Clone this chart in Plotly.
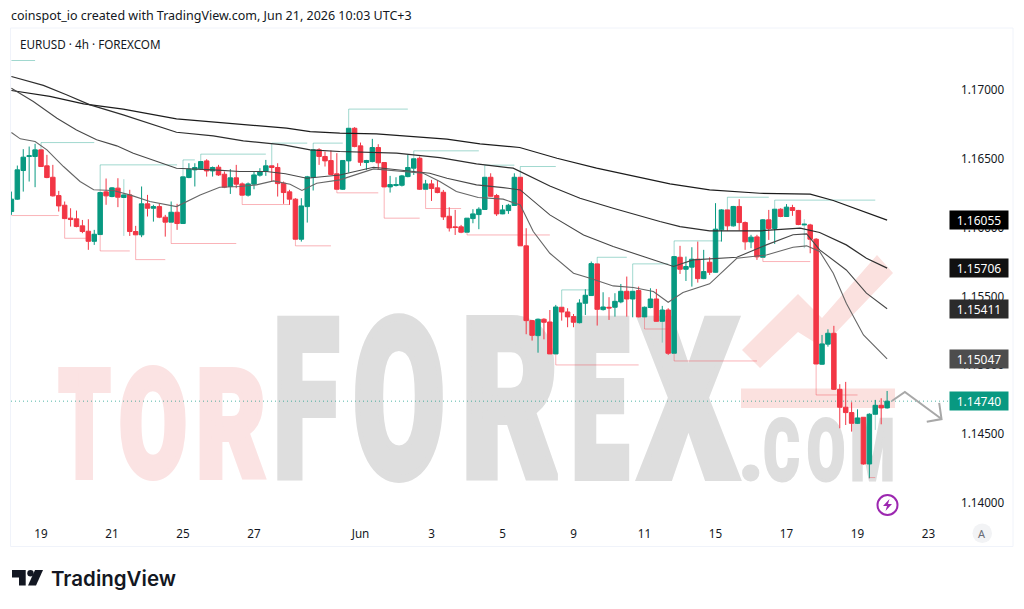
import json
import plotly.graph_objects as go

# EURUSD 4h candles, oldest first
opens = [1.16117,1.16207,1.16415,1.16517,1.16517,1.16565,1.16449,1.16366,1.16233,1.16163,1.16069,1.16064,1.16013,1.15974,1.15901,1.15950,
 1.16260,1.16226,1.16287,1.16219,1.16238,1.15972,1.15948,1.16173,1.16141,1.16153,1.16076,1.16040,1.16112,1.16030,1.16364,1.16420,
 1.16427,1.16485,1.16412,1.16439,1.16388,1.16299,1.16362,1.16318,1.16236,1.16316,1.16381,1.16408,1.16449,1.16437,1.16323,1.16260,
 1.16207,1.15916,1.16153,1.16366,1.16565,1.16517,1.16487,1.16391,
 1.16279,1.16485,1.16722,1.16594,1.16473,1.16480,1.16582,1.16473,1.16296,1.16306,1.16308,1.16371,1.16432,1.16504,1.16279,1.16318,
 1.16289,1.16257,1.16083,1.16006,1.16006,1.15967,1.16066,1.16095,1.16132,1.16366,1.16233,1.16100,1.16124,1.16161,1.16366,1.15868,
 1.15325,1.15216,1.15335,1.15315,1.15083,1.15422,1.15388,1.15354,1.15310,1.15451,1.15507,1.15737,1.15405,1.15422,1.15422,1.15461,
 1.15538,1.15482,1.15543,1.15352,1.15420,1.15482,1.15320,1.15402,
 1.15088,1.15785,1.15698,1.15713,1.15771,1.15630,1.15749,1.15676,1.15984,1.16129,1.16013,1.16154,1.16037,1.15897,1.15933,1.15785,
 1.16057,1.15994,1.16134,1.16081,1.16146,1.16125,1.16020,1.16020,1.15916,1.15008,1.15154,1.15233,1.14826,1.14696,1.14657,1.14579,
 1.14623,1.14284,1.14645,1.14710,1.14691]
highs = [1.16262,1.16451,1.16570,1.16589,1.16609,1.16565,1.16529,1.16456,1.16267,1.16190,1.16141,1.16124,1.16056,1.16061,1.15984,1.16255,
 1.16357,1.16294,1.16359,1.16238,1.16275,1.16013,1.16299,1.16238,1.16166,1.16173,1.16093,1.16190,1.16173,1.16369,1.16468,1.16468,
 1.16480,1.16497,1.16444,1.16456,1.16408,1.16425,1.16456,1.16328,1.16328,1.16408,1.16432,1.16492,1.16449,1.16468,1.16335,1.16275,
 1.16214,1.16214,1.16376,1.16565,1.16577,1.16553,1.16560,1.16541,
 1.16488,1.16722,1.16730,1.16618,1.16492,1.16645,1.16606,1.16473,1.16376,1.16366,1.16383,1.16529,1.16500,1.16517,1.16347,1.16347,
 1.16342,1.16274,1.16148,1.16129,1.16020,1.16069,1.16134,1.16148,1.16366,1.16395,1.16245,1.16165,1.16173,1.16395,1.16366,1.15996,
 1.15330,1.15340,1.15342,1.15402,1.15439,1.15422,1.15415,1.15373,1.15480,1.15553,1.15754,1.15737,1.15531,1.15495,1.15524,1.15591,
 1.15645,1.15538,1.15572,1.15427,1.15560,1.15555,1.15432,1.15415,
 1.15790,1.15868,1.15790,1.15858,1.15899,1.15839,1.15785,1.16178,1.16134,1.16129,1.16158,1.16207,1.16045,1.15948,1.15948,1.16062,
 1.16129,1.16134,1.16141,1.16171,1.16166,1.16129,1.16025,1.16028,1.15924,1.15221,1.15262,1.15287,1.14863,1.14880,1.14732,1.14681,
 1.14623,1.14652,1.14749,1.14761,1.14814]
lows = [1.16093,1.16202,1.16262,1.16335,1.16294,1.16444,1.16359,1.16226,1.16117,1.16066,1.16008,1.16003,1.15960,1.15839,1.15875,1.15950,
 1.16166,1.16221,1.16149,1.16219,1.15940,1.15948,1.15931,1.16081,1.16044,1.16069,1.15935,1.16040,1.15984,1.16027,1.16359,1.16299,
 1.16420,1.16371,1.16371,1.16376,1.16287,1.16245,1.16287,1.16236,1.16226,1.16279,1.16371,1.16376,1.16335,1.16226,1.16173,1.16166,
 1.15916,1.15899,1.16037,1.16270,1.16456,1.16444,1.16383,1.16279,
 1.16274,1.16400,1.16584,1.16449,1.16420,1.16475,1.16420,1.16296,1.16255,1.16299,1.16299,1.16366,1.16383,1.16274,1.16279,1.16194,
 1.16250,1.16056,1.15972,1.15947,1.15960,1.15967,1.16032,1.15989,1.16129,1.16226,1.16085,1.16098,1.16100,1.16158,1.15868,1.15226,
 1.15180,1.15092,1.15189,1.15083,1.15083,1.15325,1.15277,1.15277,1.15305,1.15366,1.15504,1.15289,1.15398,1.15330,1.15354,1.15451,
 1.15354,1.15349,1.15349,1.15352,1.15415,1.15318,1.15320,1.15076,
 1.15088,1.15664,1.15613,1.15572,1.15601,1.15626,1.15657,1.15674,1.15899,1.15977,1.16008,1.15979,1.15839,1.15851,1.15766,1.15785,
 1.15911,1.15882,1.16076,1.16081,1.16086,1.16018,1.16020,1.15814,1.15010,1.15005,1.15136,1.14821,1.14543,1.14567,1.14519,1.14574,
 1.14279,1.14180,1.14645,1.14572,1.14686]
closes = [1.16207,1.16420,1.16512,1.16522,1.16565,1.16444,1.16364,1.16231,1.16158,1.16066,1.16059,1.16008,1.15972,1.15901,1.15952,1.16255,
 1.16231,1.16289,1.16221,1.16238,1.15972,1.15948,1.16173,1.16141,1.16153,1.16076,1.16040,1.16112,1.16030,1.16369,1.16425,1.16437,
 1.16480,1.16412,1.16437,1.16383,1.16294,1.16362,1.16316,1.16236,1.16318,1.16383,1.16408,1.16449,1.16437,1.16320,1.16255,1.16207,
 1.15916,1.16158,1.16369,1.16565,1.16517,1.16485,1.16386,1.16279,
 1.16488,1.16722,1.16589,1.16475,1.16488,1.16582,1.16471,1.16296,1.16313,1.16313,1.16376,1.16437,1.16500,1.16279,1.16318,1.16284,
 1.16255,1.16078,1.15998,1.16001,1.15967,1.16069,1.16100,1.16134,1.16366,1.16228,1.16100,1.16129,1.16163,1.16366,1.15868,1.15325,
 1.15218,1.15335,1.15313,1.15083,1.15424,1.15388,1.15352,1.15313,1.15453,1.15509,1.15739,1.15407,1.15424,1.15417,1.15465,1.15538,
 1.15482,1.15538,1.15352,1.15422,1.15482,1.15320,1.15402,1.15088,
 1.15790,1.15698,1.15718,1.15771,1.15630,1.15681,1.15676,1.15989,1.16129,1.16013,1.16154,1.16037,1.15897,1.15931,1.15788,1.16057,
 1.15994,1.16134,1.16081,1.16149,1.16125,1.16023,1.16025,1.15916,1.15010,1.15156,1.15233,1.14826,1.14696,1.14657,1.14579,1.14618,
 1.14284,1.14645,1.14710,1.14691,1.14740]
bars = list(range(1, len(closes) + 1))

# Moving averages, sampled along each curve: (bar, price)
ma_200_bars = [1,7.5,13.2,19.9,28.9,38.5,47.5,51.5,56.5,62.7,74.6,80.2,86.9,93.2,99.9,112.3,119,127.5,136,139.9,144.4,149]
ma_200_vals = [1.16996,1.16953,1.16899,1.16861,1.16790,1.16754,1.16723,1.16698,1.16686,1.16681,1.16643,1.16609,1.16582,1.16504,1.16432,1.16318,1.16275,1.16250,1.16243,1.16197,1.16125,1.16055]
ma_100_bars = [1,6.4,10.3,14.3,19.9,28.9,35.1,40.2,47,51.5,56.5,60.5,66.1,73.4,79.6,85.8,92,97.1,102.7,110.6,114,119,127.5,134.3,137.6,142.1,145.5,149]
ma_100_vals = [1.17098,1.17033,1.16965,1.16892,1.16819,1.16693,1.16667,1.16630,1.16601,1.16565,1.16553,1.16548,1.16541,1.16509,1.16463,1.16432,1.16303,1.16214,1.16141,1.16045,1.16008,1.15977,1.15977,1.15996,1.15965,1.15875,1.15778,1.15706]
ma_50_bars = [1,4.7,8.7,12,15.4,18.8,21.6,25.6,28.9,35.1,39.6,44.1,47.3,50.9,56.5,62.2,66.1,71.7,74.6,79.6,84.1,87,92,97.7,102.7,110.6,112.9,116.2,123.6,128.6,133.1,135.4,137.6,142.1,145.5,149]
ma_50_vals = [1.17013,1.16916,1.16795,1.16710,1.16638,1.16594,1.16541,1.16480,1.16432,1.16420,1.16408,1.16408,1.16391,1.16359,1.16383,1.16439,1.16420,1.16395,1.16359,1.16311,1.16291,1.16274,1.16093,1.15947,1.15863,1.15749,1.15718,1.15766,1.15785,1.15875,1.15948,1.15955,1.15839,1.15693,1.15524,1.15411]
ma_20_bars = [1,2.5,5,7,9.8,12.6,14.9,18.2,21,24.4,28.9,32.9,36.2,39.6,42.4,45.3,48.1,50.1,52.6,56.5,62.2,66.1,70.6,73.4,76.2,79.9,84.1,87,89.2,92,96,98.8,102.7,106.1,109.5,112,114.5,119,123.6,128.6,133.1,135.4,137.6,139.9,142.1,145,149]
ma_20_vals = [1.16691,1.16645,1.16626,1.16565,1.16444,1.16335,1.16275,1.16270,1.16238,1.16190,1.16153,1.16238,1.16294,1.16299,1.16311,1.16340,1.16316,1.16270,1.16323,1.16347,1.16427,1.16412,1.16395,1.16335,1.16262,1.16219,1.16207,1.16165,1.15972,1.15814,1.15669,1.15633,1.15577,1.15565,1.15536,1.15458,1.15529,1.15592,1.15778,1.15802,1.15858,1.15868,1.15827,1.15669,1.15451,1.15221,1.15047]

# Pivot levels: first bar, last bar, price the marker leaves from, level held
up_start = [1,6,16,30,33,45,52,58,69,81,87,94,100,106,113,122,130]
up_end = [5,15,29,32,44,51,57,68,80,86,93,99,105,112,121,129,147]
up_from = [1.17214,1.16565,1.16255,1.16369,1.16480,1.16449,1.16565,1.16722,1.16500,1.16366,1.16366,1.15422,1.15737,1.15538,1.15790,1.16129,1.16134]
up_level = [1.17214,1.16618,1.16456,1.16492,1.16534,1.16614,1.16614,1.16861,1.16558,1.16454,1.16444,1.15548,1.15785,1.15737,1.15904,1.16221,1.16200]
down_start = [1,10,16,22,28,40,49,56,64,71,78,93,108,113,128,137,146]
down_end = [9,14,21,27,39,48,55,63,70,77,92,107,112,127,136,144,147]
down_from = [1.16088,1.16066,1.15950,1.15948,1.16040,1.16236,1.15916,1.16279,1.16296,1.16279,1.15967,1.15083,1.15352,1.15088,1.15785,1.15010,1.14180]
down_level = [1.16088,1.15923,1.15831,1.15768,1.15885,1.16168,1.15868,1.16253,1.16069,1.16139,1.15947,1.15003,1.15264,1.15032,1.15754,1.14785,1.14185]

# Thin pale wicks on a few bars
pale_bars = [20,111,135,147]
pale_highs = [1.16352,1.15320,1.16062,1.14749]
pale_lows = [1.15940,1.15165,1.15851,1.14531]

# Forecast arrow sketched past the last bar
arrow_bars = [149.8,152,158.2]
arrow_prices = [1.14741,1.14807,1.14610]
head_bars = [155.7,158.2,157.8]
head_prices = [1.14591,1.14610,1.14727]

date_ticks = [6,18,30,42,60,72,84,96,108,120,132,144,156]
date_labels = ["19","21","25","27","Jun","3","5","9","11","15","17","19","23"]
price_ticks = [1.14,1.145,1.15,1.155,1.16,1.165,1.17]
price_tags = [1.16055,1.15706,1.15411,1.15047,1.14740]
tag_fills = ["#000000","#111111","#2b2b2b","#4d4d4d","#089981"]
last_price = closes[-1]

UP = "#089981"
DOWN = "#f23645"
FONT = "Noto Sans"
INK = "#131722"

# Background wordmark letters: glyph, centre, fitted advance, vertical centre, size, stroke, colour
PINK = "#fbe3e3"
GREY = "#dedede"
mark_glyphs = ["T","O","R","F","O","R","E","X",".","C","O","M"]
mark_center = [84.5,153,231,306,399,510,600,688.5,751,781.5,826,872.5]
mark_advance = [52,68,70,66,92,98,58,98,24,36,38,44]
mark_mid = [439.5,439.5,439.5,422,422,422,422,422,458.5,458.5,458.5,458.5]
mark_size = [150,150,150,220,220,220,220,220,86,86,86,86]
mark_stroke = [6,6,6,8,8,8,8,8,3,3,3,3]
mark_color = [PINK]*3 + [GREY]*5 + [GREY]*4

fig = go.Figure()

# Wordmark sits on the full-page pixel axes, under the price panel
fig.add_trace(go.Scatter(
    x=mark_center, y=mark_mid, mode="text", text=mark_glyphs, textposition="middle center",
    textfont=dict(family="Roboto", size=mark_size, color=mark_color, weight=900),
    xaxis="x", yaxis="y", hoverinfo="skip",
))

fig.add_trace(go.Candlestick(
    x=bars, open=opens, high=highs, low=lows, close=closes,
    whiskerwidth=0,
    increasing=dict(line=dict(color=UP, width=1), fillcolor=UP),
    decreasing=dict(line=dict(color=DOWN, width=1), fillcolor=DOWN),
    xaxis="x2", yaxis="y2", hoverinfo="skip",
))


def stepped(starts, ends, froms, levels):
    xs, ys = [], []
    for s, e, f, l in zip(starts, ends, froms, levels):
        xs += [s, s, e, None]
        ys += [f, l, l, None]
    return xs, ys


for (s, e, f, l), col in (((up_start, up_end, up_from, up_level), "rgba(8,153,129,0.38)"),
                          ((down_start, down_end, down_from, down_level), "rgba(242,54,69,0.38)")):
    xs, ys = stepped(s, e, f, l)
    fig.add_trace(go.Scatter(x=xs, y=ys, mode="lines", line=dict(color=col, width=1),
                             xaxis="x2", yaxis="y2", hoverinfo="skip"))

wx, wy = [], []
for b, h, l in zip(pale_bars, pale_highs, pale_lows):
    wx += [b, b, None]
    wy += [h, l, None]
fig.add_trace(go.Scatter(x=wx, y=wy, mode="lines", line=dict(color="rgba(8,153,129,0.38)", width=1),
                         xaxis="x2", yaxis="y2", hoverinfo="skip"))

for xs, ys, col, w in ((ma_200_bars, ma_200_vals, "#1c1c1c", 1.2),
                       (ma_100_bars, ma_100_vals, "#2e2e2e", 1.2),
                       (ma_50_bars, ma_50_vals, "#484848", 1.1),
                       (ma_20_bars, ma_20_vals, "#666666", 1.1)):
    fig.add_trace(go.Scatter(x=xs, y=ys, mode="lines", line=dict(color=col, width=w),
                             xaxis="x2", yaxis="y2", hoverinfo="skip"))

for xs, ys in ((arrow_bars, arrow_prices), (head_bars, head_prices)):
    fig.add_trace(go.Scatter(x=xs, y=ys, mode="lines", line=dict(color="#a8a8a8", width=2),
                             xaxis="x2", yaxis="y2", hoverinfo="skip"))


def poly(points):
    return "M " + " L ".join(f"{x},{y}" for x, y in points) + " Z"


shapes = [
    # price panel frame
    dict(type="rect", xref="x", yref="y", x0=10.5, x1=1013, y0=28, y1=546.5,
         line=dict(color="#f0f3fa", width=1), fillcolor="rgba(0,0,0,0)", layer="below"),
    # wordmark zigzag and band
    dict(type="path", xref="x", yref="y", layer="below", line_width=0, fillcolor="#fbe1df",
         path=poly([(742, 350), (798, 294), (822, 318), (877, 255), (893, 273), (822, 347), (798, 332), (760, 368)])),
    dict(type="rect", xref="x", yref="y", layer="below", line_width=0, fillcolor="#fbe1df",
         x0=741, x1=895, y0=388.5, y1=408),
    # last price guide
    dict(type="line", xref="x2", yref="y2", x0=0.93, x1=159.29, y0=last_price, y1=last_price,
         line=dict(color="rgba(8,153,129,0.7)", width=1, dash="1px 3px"), layer="below"),
    # TradingView logo mark
    dict(type="path", xref="x", yref="y", line_width=0, fillcolor=INK,
         path=poly([(12, 570), (25.7, 570), (25.7, 585.5), (19, 585.5), (19, 577.5), (12, 577.5)])),
    dict(type="circle", xref="x", yref="y", line_width=0, fillcolor=INK, x0=27.3, x1=33.7, y0=570, y1=576.4),
    dict(type="path", xref="x", yref="y", line_width=0, fillcolor=INK,
         path=poly([(35, 570), (43, 570), (36, 585.5), (28, 585.5)])),
    # session icon
    dict(type="circle", xref="x", yref="y", x0=877.5, x1=897.5, y0=495, y1=515,
         line=dict(color="#9c27b0", width=2), fillcolor="rgba(255,255,255,0)"),
    dict(type="path", xref="x", yref="y", line_width=0, fillcolor="#9c27b0",
         path=poly([(889.5, 499), (883, 506), (887, 506), (885.5, 511), (892, 504), (888, 504)])),
    # auto-scale button
    dict(type="circle", xref="x", yref="y", x0=972.5, x1=992, y0=523.5, y1=543,
         line_width=0, fillcolor="#f2f3f5"),
]

annotations = [
    dict(text="coinspot_io created with TradingView.com, Jun 21, 2026 10:03 UTC+3",
         x=8.6 / 1024, y=1 - 16 / 609, xanchor="left", yanchor="middle", showarrow=False,
         xref="paper", yref="paper", font=dict(family=FONT, size=12.5, color=INK)),
    dict(text="EURUSD · 4h · FOREXCOM", x=17.5 / 1024, y=1 - 44 / 609, xanchor="left", yanchor="middle",
         showarrow=False, xref="paper", yref="paper", font=dict(family=FONT, size=11.7, color=INK)),
    dict(text="TradingView", x=48.5 / 1024, y=1 - 578.5 / 609, xanchor="left", yanchor="middle",
         showarrow=False, xref="paper", yref="paper", font=dict(family="Inter", size=20.5, color=INK, weight=600)),
    dict(text="A", x=982.3 / 1024, y=1 - 533.5 / 609, xanchor="center", yanchor="middle",
         showarrow=False, xref="paper", yref="paper", font=dict(family=FONT, size=11, color="#6a6d78")),
]
for value, fill in zip(price_tags, tag_fills):
    annotations.append(dict(
        text=f"{value:.5f}", x=979 / 1024, y=value, xref="paper", yref="y2",
        xanchor="center", yanchor="middle", showarrow=False, width=58, height=18,
        bgcolor=fill, font=dict(family=FONT, size=12, color="#ffffff"), align="center", borderpad=0,
    ))

fig.update_layout(
    width=1024, height=609,
    margin=dict(l=0, r=0, t=0, b=0),
    paper_bgcolor="#ffffff", plot_bgcolor="rgba(0,0,0,0)",
    showlegend=False, boxgap=0.24, boxgroupgap=0, dragmode=False,
    shapes=shapes, annotations=annotations,
    xaxis=dict(domain=[0, 1], range=[0, 1024], visible=False, fixedrange=True),
    yaxis=dict(domain=[0, 1], range=[609, 0], visible=False, fixedrange=True),
    xaxis2=dict(domain=[11 / 1024, 948 / 1024], range=[0.93, 159.29], anchor="y2",
                tickmode="array", tickvals=date_ticks, ticktext=date_labels,
                showgrid=False, zeroline=False, showline=False, ticks="",
                ticklabelstandoff=5, rangeslider=dict(visible=False),
                tickfont=dict(family=FONT, size=11.7, color=INK), fixedrange=True),
    yaxis2=dict(domain=[1 - 520 / 609, 1 - 28 / 609], range=[1.13877, 1.17450], anchor="x2", side="right",
                tickmode="array", tickvals=price_ticks, tickformat=".5f",
                showgrid=False, zeroline=False, showline=False, ticks="",
                ticklabelstandoff=12,
                tickfont=dict(family=FONT, size=11.7, color=INK), fixedrange=True),
)

# Squeeze each wordmark glyph to its column width and thicken its strokes
fit_script = """
var spans = %s, strokes = %s;
document.querySelectorAll('.scatterlayer .textpoint text').forEach(function (el, i) {
  if (i < spans.length) {
    el.setAttribute('textLength', spans[i]);
    el.setAttribute('lengthAdjust', 'spacingAndGlyphs');
    el.style.stroke = el.style.fill;
    el.style.strokeWidth = strokes[i] + 'px';
    el.style.strokeLinejoin = 'miter';
  }
});
""" % (json.dumps(mark_advance), json.dumps(mark_stroke))

fig.write_html("out.html", post_script=fit_script, config={"displayModeBar": False})
